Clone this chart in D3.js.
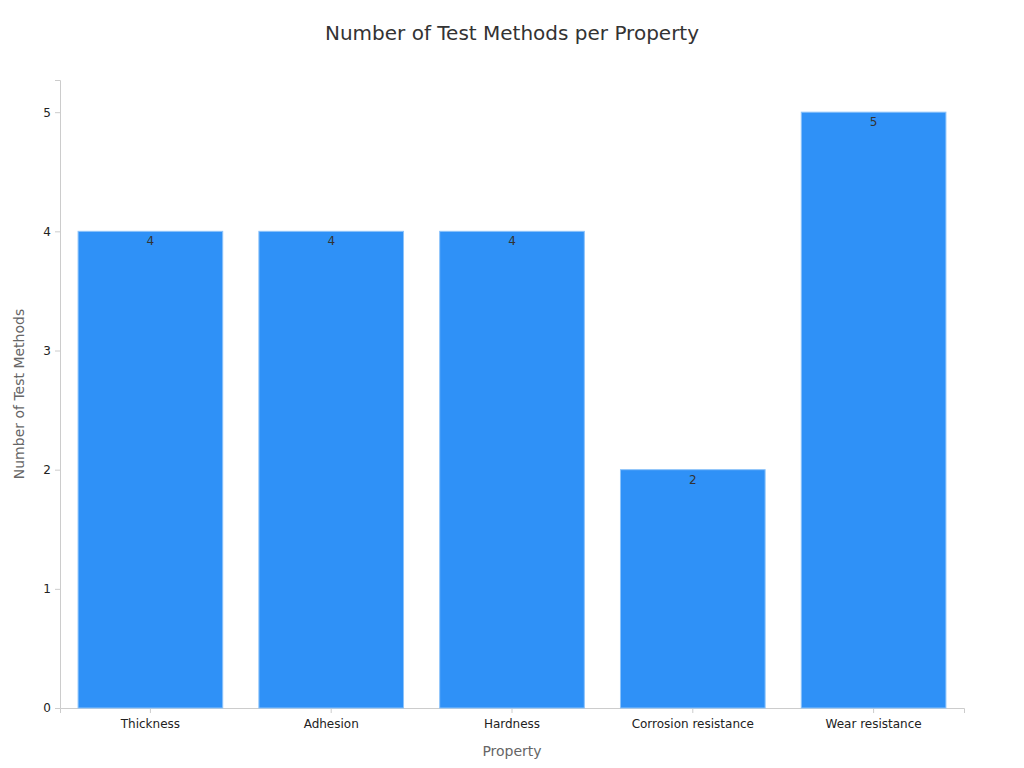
<!DOCTYPE html>
<html lang="en">
<head>
  <meta charset="UTF-8">
  <script src="https://cdn.jsdelivr.net/npm/d3@7"></script>
  <title>Number of Test Methods per Property</title>
  <style>
    body { margin: 0; background: #fff; }
    * { font-family: 'DejaVu Sans', sans-serif; }
    .title { font-size: 20px; fill: #333; text-anchor: middle; }
    .axis-title { font-size: 14px; fill: #666; text-anchor: middle; }
    .tick text { font-size: 12px; fill: #222; }
    .domain, .tick line { stroke: #ccc; }
    .bar-label { font-size: 12px; fill: #333; text-anchor: middle; }
  </style>
</head>
<body>
  <script>
    const properties = ['Thickness', 'Adhesion', 'Hardness', 'Corrosion resistance', 'Wear resistance'];
    const methodCounts = [4, 4, 4, 2, 5];
    const yTicks = [0, 1, 2, 3, 4, 5];

    const width = 1024, height = 768;
    const margin = { top: 80, right: 60, bottom: 60, left: 60 };

    const svg = d3.select('body').append('svg').attr('width', width).attr('height', height);

    const x = d3.scaleBand().domain(properties)
      .range([margin.left, width - margin.right])
      .paddingInner(0.2).paddingOuter(0.1);
    const y = d3.scaleLinear().domain([0, 5.27]).range([height - margin.bottom, margin.top]);

    svg.append('text').attr('class', 'title').attr('x', width / 2).attr('y', 40)
      .text('Number of Test Methods per Property');

    svg.append('g').attr('transform', `translate(0,${height - margin.bottom})`)
      .call(d3.axisBottom(x).tickSizeOuter(0).tickSize(5).tickPadding(6));
    svg.append('g').attr('transform', `translate(${margin.left},0)`)
      .call(d3.axisLeft(y).tickValues(yTicks).tickFormat(d3.format('d')).tickSizeOuter(0).tickSize(5).tickPadding(4));

    svg.selectAll('rect.bar')
      .data(properties)
      .enter().append('rect').attr('class', 'bar')
      .attr('x', d => x(d)).attr('width', x.bandwidth())
      .attr('y', (d, i) => y(methodCounts[i]))
      .attr('height', (d, i) => y(0) - y(methodCounts[i]))
      .attr('fill', '#2f91f7')
      .attr('stroke', '#8cc3fa').attr('stroke-width', 1);

    svg.selectAll('text.bar-label')
      .data(properties)
      .enter().append('text').attr('class', 'bar-label')
      .attr('x', d => x(d) + x.bandwidth() / 2)
      .attr('y', (d, i) => y(methodCounts[i]) + 14)
      .text((d, i) => methodCounts[i]);

    svg.append('text').attr('class', 'axis-title')
      .attr('x', (margin.left + width - margin.right) / 2).attr('y', 756)
      .text('Property');
    svg.append('text').attr('class', 'axis-title')
      .attr('transform', `translate(24,${(margin.top + height - margin.bottom) / 2}) rotate(-90)`)
      .text('Number of Test Methods');
  </script>
</body>
</html>
